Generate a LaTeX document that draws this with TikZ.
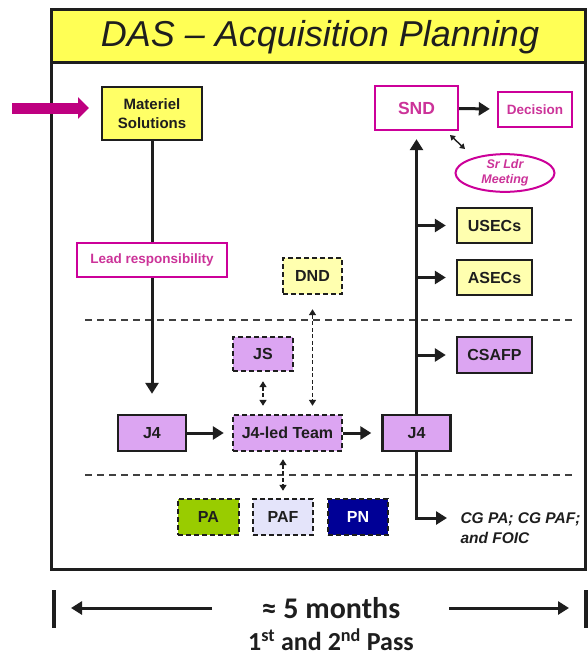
\documentclass[tikz,border=0pt]{standalone}
\usepackage{fontspec}
\setmainfont{Liberation Sans}
\newfontfamily\calfont{Carlito}
\usetikzlibrary{arrows.meta,shapes.geometric}
\definecolor{magB}{RGB}{204,0,153}
\definecolor{magT}{RGB}{204,51,153}
\definecolor{magA}{RGB}{190,0,128}
\definecolor{ttl}{RGB}{255,255,85}
\definecolor{ylw}{RGB}{255,255,102}
\definecolor{pale}{RGB}{255,255,175}
\definecolor{purp}{RGB}{220,165,242}
\definecolor{paG}{RGB}{153,204,0}
\definecolor{pafC}{RGB}{228,228,250}
\definecolor{pnB}{RGB}{0,0,150}
\definecolor{ink}{RGB}{30,30,30}
\begin{document}
\begin{tikzpicture}[x=1pt,y=-1pt,
  box/.style={draw=ink, line width=2.4pt, inner sep=0pt, align=center, text=ink,
    font=\fontsize{16}{18}\selectfont\bfseries},
  mbox/.style={box, draw=magB, fill=white, text=magT},
  dbox/.style={box, dash pattern=on 5pt off 3pt},
  arr/.style={line width=3pt, draw=ink, -{Triangle[length=11pt,width=13pt]}},
  darr/.style={line width=1.7pt, draw=ink, dash pattern=on 4pt off 2.5pt,
    {Triangle[length=6pt,width=7pt]}-{Triangle[length=6pt,width=7pt]}},
  hdash/.style={line width=2pt, draw=ink!85, dash pattern=on 7pt off 5pt}]
\useasboundingbox (0,0) rectangle (587,662);
\fill[white] (0,0) rectangle (587,662);
% frame and title
\draw[line width=3pt, draw=ink] (51,9) rectangle (585,569);
\filldraw[fill=ttl, draw=ink, line width=3pt] (51,9) rectangle (585,62);
\node[font=\fontsize{36}{40}\selectfont\itshape, text=ink] (title) at (320,37) {DAS – Acquisition Planning};
% dashed separators
\coordinate (d1a) at (85,320); \coordinate (d1b) at (572,320);
\coordinate (d2a) at (85,475); \coordinate (d2b) at (572,475);
\draw[hdash] (d1a) -- (d1b);
\draw[hdash] (d2a) -- (d2b);
% nodes
\node[box, fill=ylw, minimum width=100pt, minimum height=53pt,
  font=\fontsize{15}{19}\selectfont\bfseries] (mat) at (152,113.5) {Materiel\\Solutions};
\node[box, fill=purp, minimum width=68pt, minimum height=36pt] (J4L) at (152,433) {J4};
\node[dbox, fill=purp, minimum width=109pt, minimum height=36pt] (team) at (287.5,433) {J4-led Team};
\node[box, fill=purp, minimum width=68pt, minimum height=36pt] (J4R) at (416.5,433) {J4};
\node[mbox, minimum width=83pt, minimum height=44pt, font=\fontsize{17.5}{20}\selectfont\bfseries] (SND) at (416.5,108) {SND};
\node[mbox, minimum width=74pt, minimum height=35pt, font=\fontsize{13.5}{15}\selectfont\bfseries] (dec) at (535,109.5) {Decision};
\node[ellipse, draw=magB, line width=2pt, fill=white, text=magT, minimum width=99pt,
  minimum height=35pt, inner sep=0pt, align=center,
  font=\fontsize{12.5}{15}\selectfont\bfseries\itshape] (sr) at (505,173) {Sr Ldr\\Meeting};
\node[box, fill=pale, minimum width=75pt, minimum height=35pt] (usec) at (494.5,225.5) {USECs};
\node[box, fill=pale, minimum width=75pt, minimum height=35pt] (asec) at (494.5,277.5) {ASECs};
\node[box, fill=purp, minimum width=75pt, minimum height=36pt] (csafp) at (494.5,355) {CSAFP};
\node[dbox, fill=pale, minimum width=59pt, minimum height=36pt] (DND) at (312.5,276) {DND};
\node[dbox, fill=purp, minimum width=60pt, minimum height=34pt] (JS) at (263,354) {JS};
\node[dbox, fill=paG, minimum width=61pt, minimum height=36pt] (PA) at (208.5,517) {PA};
\node[dbox, fill=pafC, minimum width=60pt, minimum height=36pt] (PAF) at (283,517) {PAF};
\node[dbox, fill=pnB, text=white, minimum width=60pt, minimum height=36pt] (PN) at (358,517) {PN};
\node[anchor=west, align=left, text=ink, font=\fontsize{15.5}{20}\selectfont\bfseries\itshape] (cg) at (457,528) {CG PA; CG PAF;\\and FOIC};
% magenta input arrow
\coordinate (magin) at (12,108);
\coordinate (magtip) at (89,108);
\draw[line width=11pt, magA, -{Triangle[length=11pt,width=21pt]}] (magin) -- (magtip);
% connectors
\draw[arr, shorten >=20pt] (mat.south) -- (J4L.north);
\node[mbox, minimum width=150pt, minimum height=34pt, font=\fontsize{13.5}{15}\selectfont\bfseries] (lead) at (152,260) {Lead responsibility};
\draw[arr, shorten >=8pt] (J4L) -- (team);
\draw[arr, shorten >=10pt] (team) -- (J4R);
\draw[arr, shorten >=8pt] (J4R.north) -- (SND.south);
\draw[arr, shorten >=7pt] (SND) -- (dec);
\coordinate (srA) at (450,135); \coordinate (srB) at (465,149);
\draw[line width=1.4pt, draw=ink, {Triangle[length=5pt,width=6pt]}-{Triangle[length=5pt,width=6pt]}] (srA) -- (srB);
\coordinate (bu) at (J4R.north |- usec.west);
\coordinate (ba) at (J4R.north |- asec.west);
\coordinate (bc) at (J4R.north |- csafp.west);
\draw[arr, shorten >=10pt] (bu) -- (usec.west);
\draw[arr, shorten >=10pt] (ba) -- (asec.west);
\draw[arr, shorten >=10pt] (bc) -- (csafp.west);
\coordinate (cgc) at (416.5,518);
\coordinate (cgt) at (447,518);
\draw[arr] (J4R.south) -- (cgc) -- (cgt);
\draw[darr, shorten <=9pt, shorten >=8pt] (JS.south) -- (JS.south |- team.north);
\draw[darr, shorten <=14pt, shorten >=8pt] (DND.south) -- (DND.south |- team.north);
\draw[darr, shorten <=7pt, shorten >=7pt] (team.south -| PAF.north) -- (PAF.north);
% time span
\draw[line width=4pt, draw=ink] (54,590) -- (54,628);
\draw[line width=4pt, draw=ink] (586,590) -- (586,628);
\node[font=\calfont\fontsize{30}{32}\selectfont\bfseries, text=ink] (months) at (331,608) {≈ 5 months};
\node[font=\calfont\fontsize{26}{28}\selectfont\bfseries, text=ink, inner sep=1pt] (pass) at (331,640) {1\textsuperscript{st} and 2\textsuperscript{nd} Pass};
\coordinate (la) at (212,608); \coordinate (lb) at (71,608);
\coordinate (ra) at (449,608); \coordinate (rb) at (569,608);
\draw[arr] (la) -- (lb);
\draw[arr] (ra) -- (rb);
\end{tikzpicture}
\end{document}
